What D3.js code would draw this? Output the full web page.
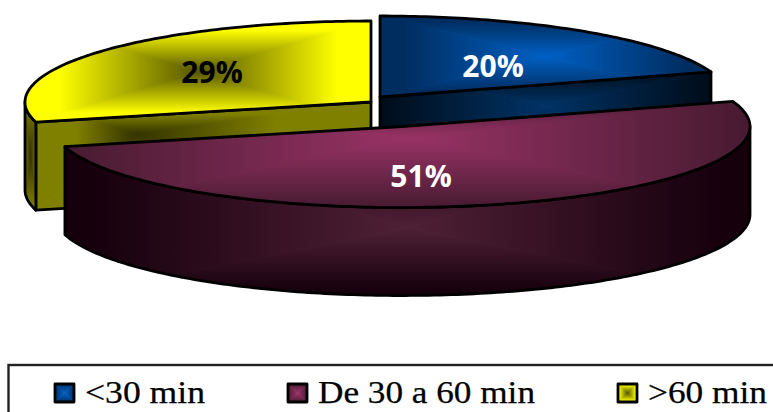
<!DOCTYPE html>
<html>
<head>
<meta charset="utf-8">
<script src="https://cdn.jsdelivr.net/npm/d3@7/dist/d3.min.js"></script>
<style>
html,body{margin:0;padding:0;background:#fff;overflow:hidden}
svg{display:block}
</style>
</head>
<body>
<script>
// Exploded 3D pie of travel-time shares
const categories = ["<30 min", "De 30 a 60 min", ">60 min"];
const values = [20, 51, 29];

const W = 773, H = 412;
const RX = [348, 348, 346], RY = 81, DEPTH = 88;
const explode = [[380, 97], [402, 126.5], [371, 102]];
const topColors = [["#0060c4", "#002d60"], ["#993366", "#461a30"], ["#555500", "#ffff00"]];
const topReach = [0.85, 1, 0.8];
const topFocus = [[0.5, 0.5], [0.5, 0.35], [0.5, 0.5]];
const cutColors = [["#003366", "#000c18"], null, ["#333300", "#808000"]];
const cutReach = [1, 1, 0.6];
const rimColors = [null, ["#4f2036", "#16000c"], ["#333300", "#808000"]];
const rimFocus = [null, [0.5, 0.6], [0.5, 0.5]];
const rimReach = [1, 0.92, 1];
const cutFocus = [[0.5, 0.3], null, [0.3, 0.3]];
const labelPos = [[493, 65], [421, 175], [212, 71]];
const labelFill = ["#fff", "#fff", "#000"];
const legendSwatch = [54, 287, 617];
const swatchReach = [1, 1, 0.8];
const legendText = [[85, 120], [318, 217], [648, 119]];

const svg = d3.select("body").append("svg").attr("width", W).attr("height", H);
const defs = svg.append("defs");
let uid = 0;

const slices = d3.pie().sort(null).value(d => d)(values);
const line = d3.line();
const project = (c, rx, a, dy = 0) => [c[0] + rx * Math.sin(a), c[1] - RY * Math.cos(a) + dy];
const arcPts = (c, rx, a0, a1, dy = 0) => {
  const n = Math.max(2, Math.ceil(Math.abs(a1 - a0) * 60));
  return d3.range(n + 1).map(i => project(c, rx, a0 + (a1 - a0) * i / n, dy));
};

// Rectangular "from centre" shading: four triangles meeting at a focus, clipped to the face
function shadedFace(parent, d, colors, focus = [0.5, 0.5], reach = 1) {
  const probe = parent.append("path").attr("d", d);
  const b = probe.node().getBBox();
  probe.remove();
  const x0 = b.x - 1, y0 = b.y - 1, x1 = b.x + b.width + 1, y1 = b.y + b.height + 1;
  const fx = x0 + (x1 - x0) * focus[0], fy = y0 + (y1 - y0) * focus[1];
  const clipId = "clip" + (++uid);
  defs.append("clipPath").attr("id", clipId).append("path").attr("d", d);
  const g = parent.append("g").attr("clip-path", `url(#${clipId})`);
  const sides = [
    [[x0, y0], [x1, y0], [fx, y0]],
    [[x1, y0], [x1, y1], [x1, fy]],
    [[x1, y1], [x0, y1], [fx, y1]],
    [[x0, y1], [x0, y0], [x0, fy]]
  ];
  sides.forEach(([p, q, end]) => {
    const id = "grad" + (++uid);
    const lg = defs.append("linearGradient").attr("id", id)
      .attr("gradientUnits", "userSpaceOnUse")
      .attr("x1", fx).attr("y1", fy).attr("x2", end[0]).attr("y2", end[1]);
    lg.append("stop").attr("offset", 0).attr("stop-color", colors[0]);
    lg.append("stop").attr("offset", reach).attr("stop-color", colors[1]);
    g.append("path").attr("d", line([[fx, fy], p, q]) + "Z")
      .attr("fill", `url(#${id})`).attr("stroke", `url(#${id})`).attr("stroke-width", 1);
  });
  parent.append("path").attr("d", d).attr("fill", "none")
    .attr("stroke", "#000").attr("stroke-width", 2.8).attr("stroke-linejoin", "round");
}

const order = d3.range(slices.length).sort((a, b) => explode[a][1] - explode[b][1]);
order.forEach(i => {
  const s = slices[i], c = explode[i], rx = RX[i];
  const g = svg.append("g");
  // straight cut faces that turn toward the viewer
  const cutAngle = s.endAngle < Math.PI ? s.endAngle : (s.startAngle > Math.PI ? s.startAngle : null);
  if (cutAngle !== null && cutColors[i]) {
    const p = project(c, rx, cutAngle), q = project(c, rx, cutAngle, DEPTH);
    shadedFace(g, line([c, p, q, [c[0], c[1] + DEPTH]]) + "Z", cutColors[i], cutFocus[i], cutReach[i]);
  }
  // curved rim on the near half of the ellipse
  const lo = Math.max(s.startAngle, Math.PI / 2), hi = Math.min(s.endAngle, 3 * Math.PI / 2);
  if (hi > lo && rimColors[i]) {
    shadedFace(g, line([...arcPts(c, rx, lo, hi), ...arcPts(c, rx, hi, lo, DEPTH)]) + "Z", rimColors[i], rimFocus[i], rimReach[i]);
  }
  // top face
  shadedFace(g, line([c, ...arcPts(c, rx, s.startAngle, s.endAngle)]) + "Z", topColors[i], topFocus[i], topReach[i]);
});

// Percentage labels
svg.selectAll("text.pct").data(values).join("text").attr("class", "pct")
  .attr("x", (d, i) => labelPos[i][0]).attr("y", (d, i) => labelPos[i][1])
  .attr("text-anchor", "middle").attr("dominant-baseline", "central")
  .attr("font-family", "'Open Sans', sans-serif").attr("font-weight", 700).attr("font-size", 30)
  .attr("fill", (d, i) => labelFill[i]).text(d => d + "%");

// Legend box, running off the right and bottom edges of the page
svg.append("rect").attr("x", 8.5).attr("y", 365).attr("width", W).attr("height", 60)
  .attr("fill", "#fff").attr("stroke", "#222").attr("stroke-width", 2.4);
categories.forEach((name, i) => {
  const g = svg.append("g");
  const x = legendSwatch[i];
  shadedFace(g, line([[x + 1, 384], [x + 20, 384], [x + 20, 402], [x + 1, 402]]) + "Z", topColors[i], [0.5, 0.5], swatchReach[i]);
  svg.append("text").attr("x", legendText[i][0]).attr("y", 403)
    .attr("textLength", legendText[i][1]).attr("lengthAdjust", "spacingAndGlyphs")
    .attr("font-family", "'Liberation Serif', serif").attr("font-size", 31)
    .attr("fill", "#000").attr("stroke", "#000").attr("stroke-width", 0.25).text(name);
});
</script>
</body>
</html>
